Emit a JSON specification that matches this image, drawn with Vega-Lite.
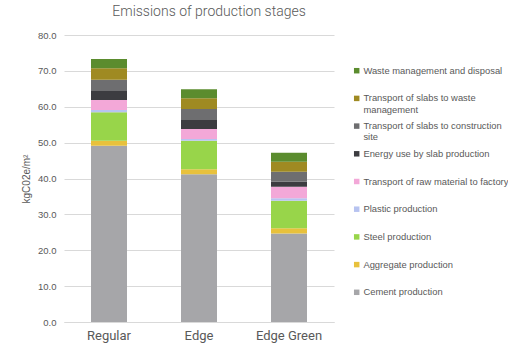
{
  "$schema": "https://vega.github.io/schema/vega-lite/v6.json",
  "width": 270,
  "height": 287,
  "autosize": {"type": "none"},
  "padding": {"left": 64, "top": 35, "right": 174, "bottom": 23},
  "background": "white",
  "title": {
    "text": "Emissions of production stages",
    "font": "Roboto",
    "fontSize": 14,
    "fontWeight": 300,
    "color": "#595959",
    "anchor": "middle",
    "dx": 10,
    "offset": 11
  },
  "config": {
    "view": {"stroke": null},
    "axis": {"labelColor": "#595959", "titleColor": "#595959"}
  },
  "data": {
    "values": [
      {"design": "Regular", "stage": "Cement production", "k": 1, "value": 49.1},
      {"design": "Regular", "stage": "Aggregate production", "k": 2, "value": 1.4},
      {"design": "Regular", "stage": "Steel production", "k": 3, "value": 8.0},
      {"design": "Regular", "stage": "Plastic production", "k": 4, "value": 0.6},
      {"design": "Regular", "stage": "Transport of raw material to factory", "k": 5, "value": 2.8},
      {"design": "Regular", "stage": "Energy use by slab production", "k": 6, "value": 2.5},
      {"design": "Regular", "stage": "Transport of slabs to construction site", "k": 7, "value": 3.1},
      {"design": "Regular", "stage": "Transport of slabs to waste management", "k": 8, "value": 3.2},
      {"design": "Regular", "stage": "Waste management and disposal", "k": 9, "value": 2.6},
      {"design": "Edge", "stage": "Cement production", "k": 1, "value": 41.2},
      {"design": "Edge", "stage": "Aggregate production", "k": 2, "value": 1.4},
      {"design": "Edge", "stage": "Steel production", "k": 3, "value": 7.9},
      {"design": "Edge", "stage": "Plastic production", "k": 4, "value": 0.5},
      {"design": "Edge", "stage": "Transport of raw material to factory", "k": 5, "value": 2.8},
      {"design": "Edge", "stage": "Energy use by slab production", "k": 6, "value": 2.5},
      {"design": "Edge", "stage": "Transport of slabs to construction site", "k": 7, "value": 3.1},
      {"design": "Edge", "stage": "Transport of slabs to waste management", "k": 8, "value": 3.0},
      {"design": "Edge", "stage": "Waste management and disposal", "k": 9, "value": 2.5},
      {"design": "Edge Green", "stage": "Cement production", "k": 1, "value": 24.7},
      {"design": "Edge Green", "stage": "Aggregate production", "k": 2, "value": 1.4},
      {"design": "Edge Green", "stage": "Steel production", "k": 3, "value": 7.7},
      {"design": "Edge Green", "stage": "Plastic production", "k": 4, "value": 0.7},
      {"design": "Edge Green", "stage": "Transport of raw material to factory", "k": 5, "value": 3.2},
      {"design": "Edge Green", "stage": "Energy use by slab production", "k": 6, "value": 1.4},
      {"design": "Edge Green", "stage": "Transport of slabs to construction site", "k": 7, "value": 2.8},
      {"design": "Edge Green", "stage": "Transport of slabs to waste management", "k": 8, "value": 2.8},
      {"design": "Edge Green", "stage": "Waste management and disposal", "k": 9, "value": 2.5}
    ]
  },
  "mark": {"type": "bar"},
  "encoding": {
    "x": {
      "field": "design",
      "type": "nominal",
      "sort": ["Regular", "Edge", "Edge Green"],
      "scale": {"paddingInner": 0.6, "paddingOuter": 0.3},
      "axis": {
        "title": null,
        "labelAngle": 0,
        "labelFont": "Roboto",
        "labelFontSize": 13,
        "labelPadding": 7,
        "ticks": false,
        "domainColor": "#d9d9d9"
      }
    },
    "y": {
      "field": "value",
      "type": "quantitative",
      "stack": "zero",
      "scale": {"domain": [0, 80]},
      "axis": {
        "title": "kgC02e/m²",
        "titleFont": "Liberation Sans",
        "titleFontSize": 10,
        "titleFontWeight": "normal",
        "titlePadding": 6,
        "values": [0, 10, 20, 30, 40, 50, 60, 70, 80],
        "format": ".1f",
        "labelFont": "Liberation Sans",
        "labelFontSize": 9.5,
        "labelPadding": 8,
        "domain": false,
        "ticks": false,
        "gridColor": "#d9d9d9"
      }
    },
    "color": {
      "field": "stage",
      "type": "nominal",
      "scale": {
        "domain": [
          "Waste management and disposal",
          "Transport of slabs to waste management",
          "Transport of slabs to construction site",
          "Energy use by slab production",
          "Transport of raw material to factory",
          "Plastic production",
          "Steel production",
          "Aggregate production",
          "Cement production"
        ],
        "range": ["#5b8c2e", "#9f8a22", "#6e6e70", "#3c3c40", "#f3a8d8", "#b7c3f0", "#98d54a", "#e8c13c", "#a6a6a9"]
      },
      "legend": {
        "title": null,
        "orient": "none",
        "legendX": 288,
        "legendY": 31,
        "gridAlign": "all",
        "symbolType": "square",
        "symbolSize": 30,
        "symbolStrokeWidth": 0,
        "labelFont": "Liberation Sans",
        "labelFontSize": 9.4,
        "labelColor": "#595959",
        "labelLimit": 200,
        "labelOffset": 2,
        "rowPadding": 5.7,
        "labelExpr": "datum.label == 'Transport of slabs to waste management' ? ['Transport of slabs to waste', 'management'] : datum.label == 'Transport of slabs to construction site' ? ['Transport of slabs to construction', 'site'] : datum.label"
      }
    },
    "order": {"field": "k", "type": "quantitative", "sort": "ascending"}
  }
}
